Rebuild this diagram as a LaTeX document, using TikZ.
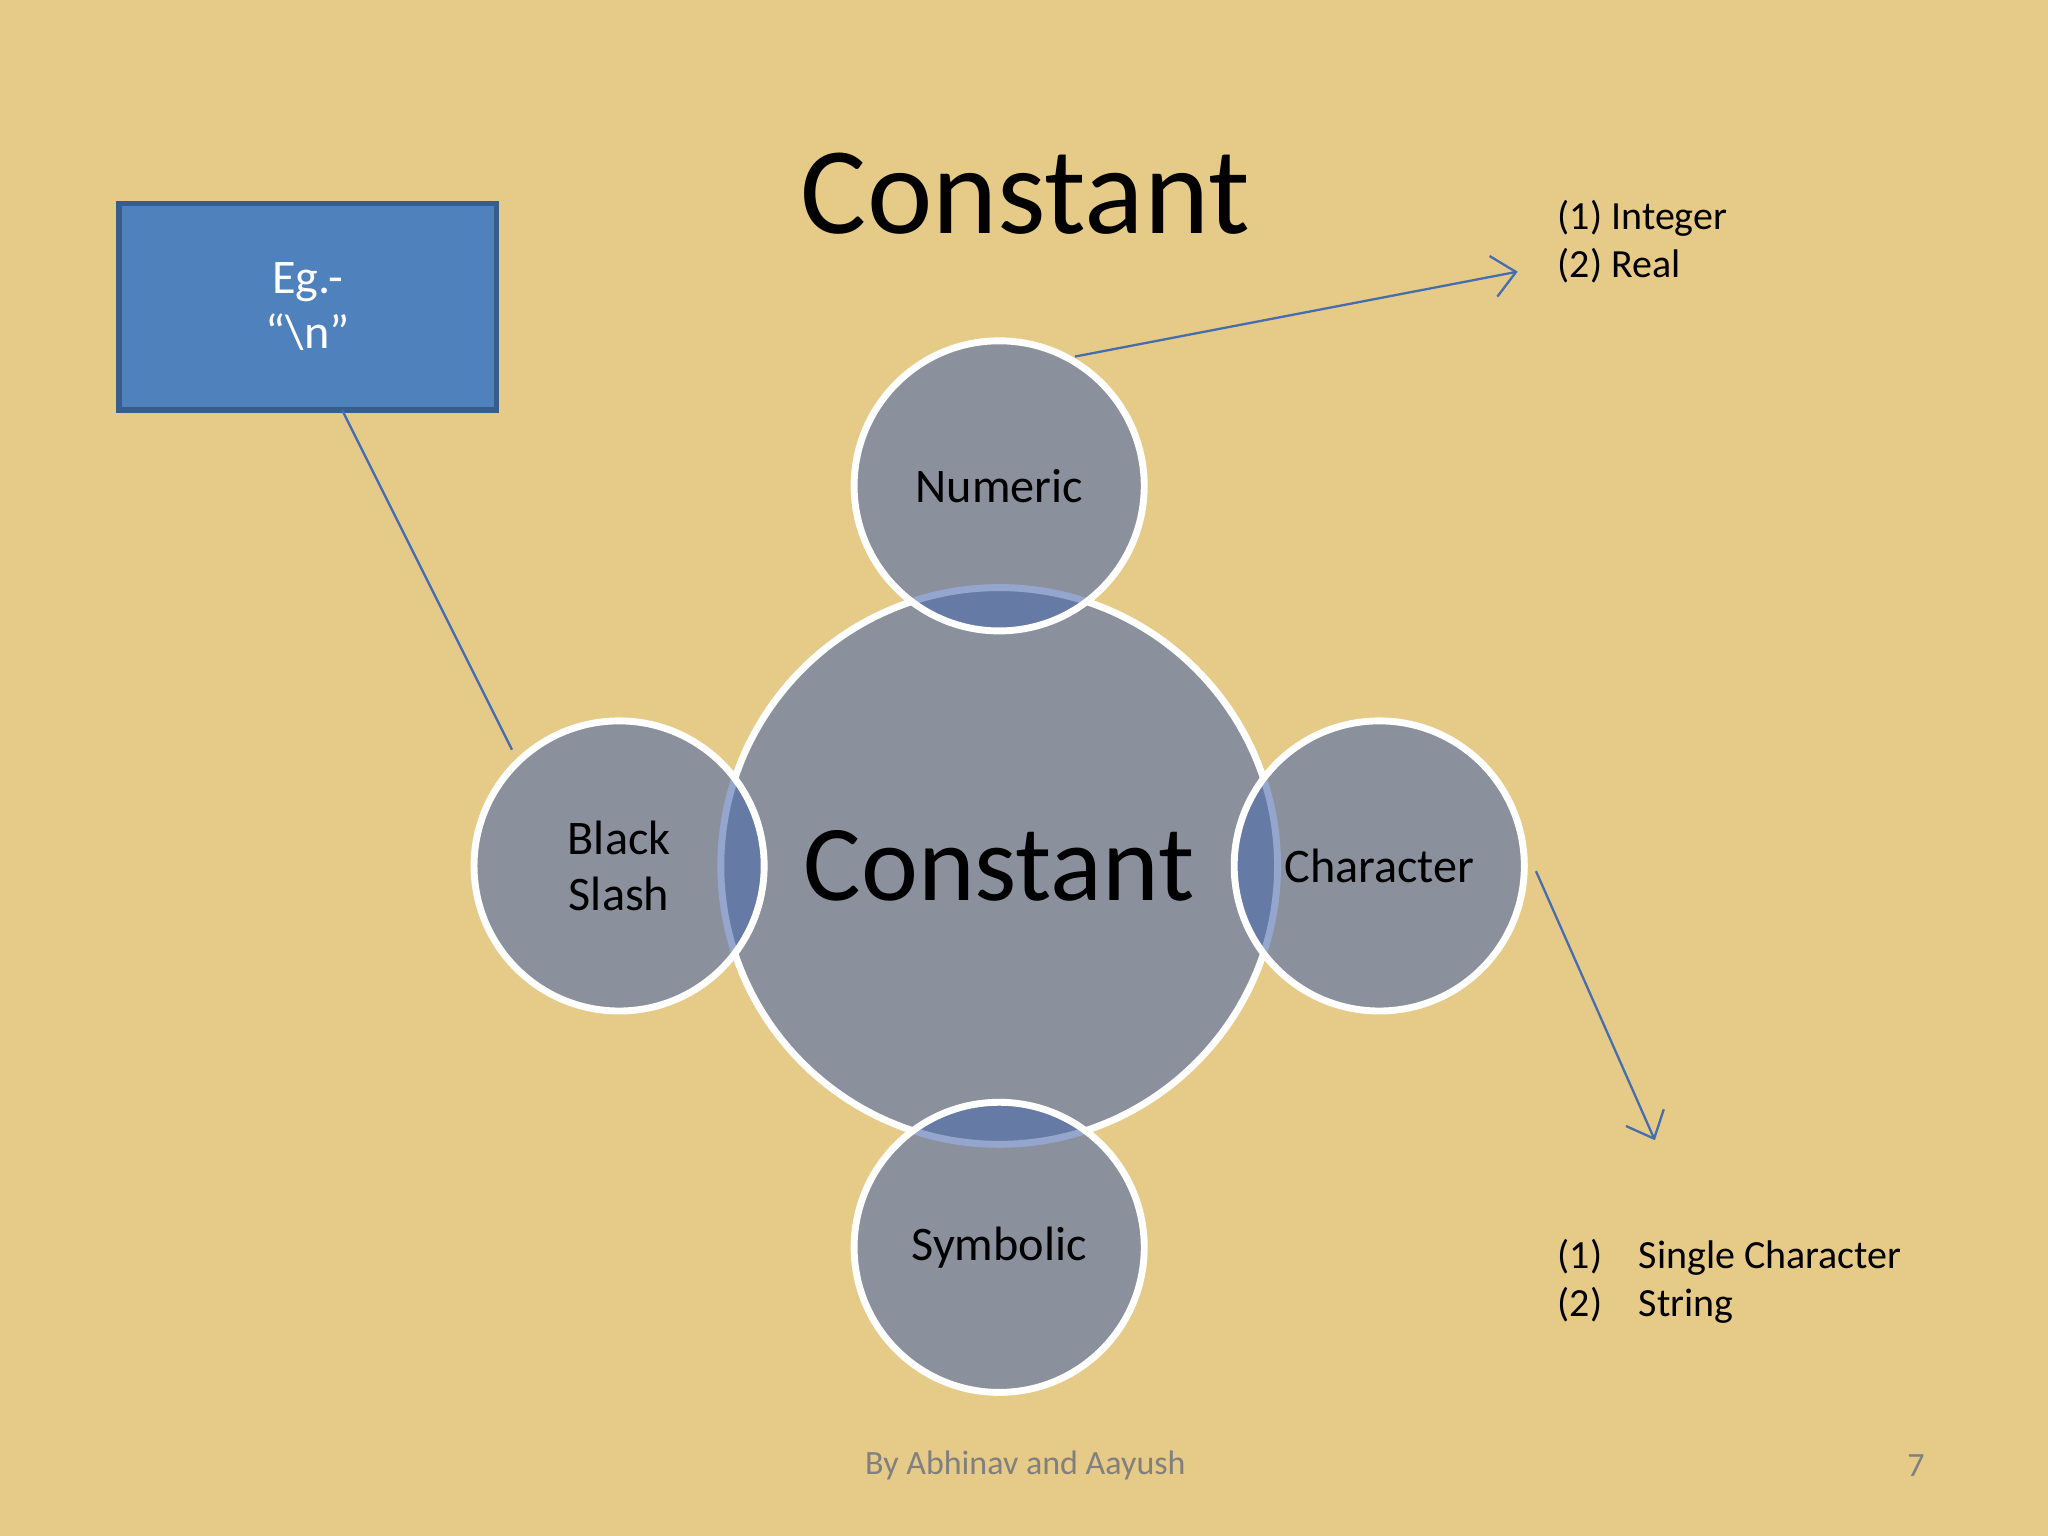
\documentclass[tikz,border=0pt]{standalone}
\usepackage{fontspec}
\setmainfont{Carlito}
\usetikzlibrary{arrows.meta}
\definecolor{bg}{RGB}{230,202,135}
\definecolor{circ}{RGB}{78,108,172}
\definecolor{boxc}{RGB}{79,129,189}
\definecolor{boxb}{RGB}{56,93,140}
\definecolor{lnc}{RGB}{70,110,175}
\tikzset{
  bub/.style={circle,draw=white,line width=1.5pt,fill=circ,fill opacity=0.6,draw opacity=1,text opacity=1,inner sep=0pt,align=center},
  small/.style={font=\fontsize{10.5}{12}\selectfont},
  conn/.style={draw=lnc,line width=0.5pt},
  legend/.style={anchor=west,font=\fontsize{8.7}{10.5}\selectfont,align=left,inner sep=0pt}
}
\begin{document}
\begin{tikzpicture}[x=0.01cm,y=-0.01cm]
\fill[bg] (0,0) rectangle (1568,1176);
\useasboundingbox (0,0) rectangle (1568,1176);
\node[text=black] (title) at (785,148) {\fontsize{27}{30}\selectfont Constant};
\node[bub,minimum size=4.26cm] (center) at (765,663) {};
\node[bub,minimum size=2.22cm,small] (num) at (765,372) {Numeric};
\node[bub,minimum size=2.22cm,small] (bs) at (474,663) {Black\\Slash};
\node[bub,minimum size=2.22cm,small] (ch) at (1056,663) {Character};
\node[bub,minimum size=2.22cm,small] (sym) at (765,955) {Symbolic};
\node at (765,663) {\fontsize{23.5}{26}\selectfont Constant};
\node[draw=boxb,line width=1.2pt,fill=boxc,minimum width=2.89cm,minimum height=1.58cm,text=white,small,align=center] (box) at (235.5,235) {Eg.-\\“\textbackslash n”};
\coordinate (bsin) at (392,574);
\coordinate (boxout) at (262,314);
\draw[conn] (boxout) -- (bsin);
\coordinate (numout) at (823,273);
\coordinate (intend) at (1162,208);
\draw[conn,-{Straight Barb[length=5pt,width=9pt]}] (numout) -- (intend);
\coordinate (chout) at (1176,667);
\coordinate (chend) at (1267,873);
\draw[conn,-{Straight Barb[length=5pt,width=9pt]}] (chout) -- (chend);
\node[legend] (l1) at (1192,185) {(1) Integer\\(2) Real};
\node[legend] (l2) at (1192,981) {(1)\hspace{6pt} Single Character\\(2)\hspace{6pt} String};
\node[text=gray,font=\fontsize{7.4}{9}\selectfont] (foot) at (785,1122) {By Abhinav and Aayush};
\node[text=gray,font=\fontsize{7.4}{9}\selectfont] (pg) at (1467,1122) {7};
\end{tikzpicture}
\end{document}
